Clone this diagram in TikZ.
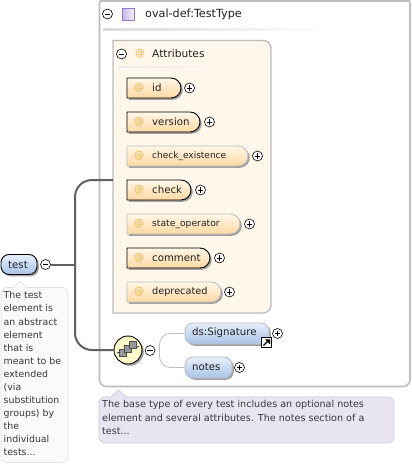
\documentclass[tikz,border=0pt]{standalone}
\usepackage{fontspec}
\setmainfont{DejaVu Sans}
\usetikzlibrary{shapes.misc,shadows}
\definecolor{framegray}{HTML}{BDBDBD}
\definecolor{attrbg}{HTML}{FFF7EC}
\definecolor{atcol}{HTML}{F5AE3C}
\definecolor{txt}{HTML}{222222}
\definecolor{pilltop}{HTML}{FFF6E8}
\definecolor{pillbot}{HTML}{FDD8A2}
\definecolor{bluetop}{HTML}{E8EFFA}
\definecolor{bluebot}{HTML}{A8C3E8}
\definecolor{lavfill}{HTML}{E8E4F2}
\definecolor{lavdraw}{HTML}{CCC8DC}
\definecolor{iconedge}{HTML}{8E78C8}
\definecolor{iconleft}{HTML}{C4B8E8}
\definecolor{icondark}{HTML}{777777}
\tikzset{
 shad/.style={drop shadow={shadow xshift=1.8pt,shadow yshift=-1.8pt,fill=black!45,opacity=.8}},
 base/.style={rounded rectangle,rounded rectangle west arc=none,minimum height=20pt,inner sep=0pt,shad},
 attreq/.style={base,draw=black,line width=.9pt,top color=pilltop,bottom color=pillbot},
 attopt/.style={base,draw=framegray,line width=.9pt,top color=pilltop,bottom color=pillbot},
 elemopt/.style={rectangle,rounded corners=8pt,inner sep=0pt,shad,draw=framegray,line width=.9pt,top color=bluetop,bottom color=bluebot},
 elemreq/.style={rectangle,rounded corners=8pt,inner sep=0pt,shad,draw=black,line width=.9pt,top color=bluetop,bottom color=bluebot},
 lbl/.style={anchor=west,inner sep=0pt,font=\fontsize{10.2}{11}\selectfont,text=txt},
 atsign/.style={anchor=west,inner sep=0pt,font=\fontsize{10}{11}\selectfont,text=atcol},
 tog/.style={circle,draw=black,fill=white,line width=.6pt,minimum size=10pt,inner sep=0pt},
 minusn/.style={tog,path picture={\draw[line width=.7pt] (-2.6pt,0pt)--(2.6pt,0pt);}},
 plusn/.style={tog,path picture={\draw[line width=.7pt] (-2.6pt,0pt)--(2.6pt,0pt) (0pt,-2.6pt)--(0pt,2.6pt);}},
 conn/.style={draw=black!62,line width=2pt},
 thinconn/.style={draw=black!25,line width=.8pt},
 docn/.style={draw,rounded corners=6pt,line width=.6pt,inner sep=0pt},
 doct/.style={anchor=north west,inner sep=0pt,align=left,text=black!78},
}
\newcommand{\attpill}[6]{% name, style, xright, y, text, plusx
  \node[#2,minimum width=#3pt-127pt] (#1) at ({(127+#3)/2},#4) {};
  \node[atsign] (#1at) at (134,#4) {@};
  \node[lbl] (#1txt) at (152,#4) {#5};
  \node[plusn] (#1plus) at (#6,#4) {};
}
\newcommand{\fs}[1]{\fontsize{#1}{11}\selectfont}
\begin{document}
\begin{tikzpicture}[x=1pt,y=-1pt]
\useasboundingbox (0,0) rectangle (412,466);
\fill[white] (0,0) rectangle (412,466);
% main frame
\draw[framegray,line width=1.6pt,rounded corners=7pt] (99.5,-3)--(410,-3)--(410,386.5)--(99.5,386.5)--cycle;
\draw[framegray,line width=1.6pt] (99.5,0.8)--(410,0.8);
\node[minusn] (mainminus) at (107.5,14) {};
\node[draw=iconedge,line width=.8pt,left color=iconleft,right color=lavfill!40,minimum size=12pt,inner sep=0pt] (typeicon) at (128.5,14.5) {};
\node[lbl,font=\fontsize{11.2}{12}\selectfont] (typetxt) at (145,14) {oval-def:TestType};
\shade[left color=black!14,right color=white] (103,28) rectangle (330,30);
% attributes box
\draw[framegray,fill=attrbg,line width=1.4pt] (113,40.5) [rounded corners=8pt] --(271,40.5) --(271,313) [sharp corners] --(113,313)--cycle;
\coordinate (attrin) at (113,180);
\node[minusn] (attrminus) at (121.5,54) {};
\node[atsign] (attrat) at (135,54) {@};
\node[lbl,font=\fs{10.6}] (attrtxt) at (152,54) {Attributes};
\shade[left color=black!8,right color=attrbg] (118,66) rectangle (235,67.5);
\attpill{id}{attreq}{181}{88}{id}{189.5}
\attpill{ver}{attreq}{200}{122}{version}{209.5}
\attpill{exist}{attopt}{248}{156}{\fs{9.0}check\_existence}{257.5}
\attpill{check}{attreq}{191}{190}{check}{200.5}
\attpill{state}{attopt}{240}{224}{\fs{9.2}state\_operator}{249.5}
\attpill{comm}{attreq}{210}{258}{comment}{219.5}
\attpill{depr}{attopt}{221}{292}{\fs{9.7}deprecated}{229.5}
% test
\node[elemreq,minimum width=36pt,minimum height=20pt] (test) at (19,264.5) {};
\node[lbl] (testtxt) at (8,264.5) {test};
\node[minusn] (testminus) at (45.5,264.5) {};
% sequence
\node[circle,draw=black,fill=yellow!20,line width=.9pt,minimum size=28pt,inner sep=0pt,shad] (seq) at (128,350) {};
\draw[black,line width=.6pt] (117,353)--(139,346.5);
\foreach \a/\b in {123/353,128/349,133/345}{\draw[black!70,fill=icondark!75,line width=.4pt] (\a-3.5,\b-3.5) rectangle (\a+3.5,\b+3.5);}
\node[minusn] (seqminus) at (150,350.5) {};
% connectors
\coordinate (busj) at (75,264.5);
\draw[conn] (testminus.east)--(busj);
\draw[conn,rounded corners=17pt] (attrin)--(75,180)--(75,350)--(seq.west);
% children
\node[elemopt,minimum width=84pt,minimum height=21pt] (sig) at (227,333.5) {};
\node[lbl] (sigtxt) at (192,333) {ds:Signature};
\node[plusn] (sigplus) at (277.5,333.5) {};
\node[draw=black,fill=white,line width=.7pt,minimum size=10pt,inner sep=0pt] (short) at (266.5,342.5) {};
\draw[black,line width=1.4pt] (263.5,345.5)--(268.5,340.5);
\fill[black] (265,339.3)--(270,339.3)--(270,344.3)--cycle;
\node[elemopt,minimum width=47pt,minimum height=21pt] (notes) at (208.5,367.5) {};
\node[lbl] (notestxt) at (192,367) {notes};
\node[plusn] (notesplus) at (239.5,367.5) {};
\draw[thinconn,rounded corners=11pt] (sig.west)--(159.5,333.5)--(159.5,367.5)--(notes.west);
% doc boxes
\node[docn,draw=black!12,fill=black!2,minimum width=67pt,minimum height=175pt] (testdoc) at (34.5,375) {};
\fill[black!2] (13,288.5)--(20,281)--(27,288.5)--cycle;
\draw[black!12,line width=.6pt] (13,288)--(20,281)--(27,288);
\node[doct,font=\fontsize{9.4}{13.08}\selectfont] (testdoctxt) at (3.5,291.5) {The test\\element is\\an abstract\\element\\that is\\meant to be\\extended\\(via\\substitution\\groups) by\\the\\individual\\tests...};
\node[docn,draw=lavdraw,fill=lavfill,minimum width=295pt,minimum height=46pt] (typedoc) at (246.5,420) {};
\fill[lavfill] (110,398)--(118.5,390)--(127,398)--cycle;
\draw[lavdraw,line width=.6pt] (110,397.5)--(118.5,390)--(127,397.5);
\node[doct,font=\fontsize{9.6}{13.3}\selectfont] (typedoctxt) at (102,400.5) {The base type of every test includes an optional notes\\element and several attributes. The notes section of a\\test...};
\end{tikzpicture}
\end{document}
